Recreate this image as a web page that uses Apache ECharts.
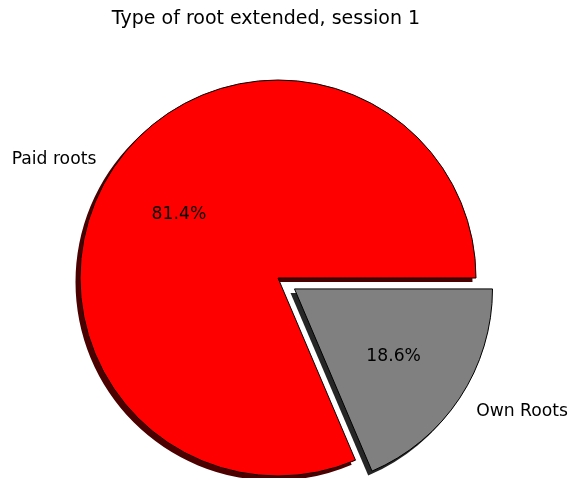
<!DOCTYPE html>
<html>
<head>
<meta charset="utf-8">
<script src="https://cdn.jsdelivr.net/npm/echarts@6/dist/echarts.min.js"></script>
<style>html,body{margin:0;padding:0;background:#fff;}#c{width:569px;height:478px;}</style>
</head>
<body>
<div id="c"></div>
<script>
const categories = ['Paid roots', 'Own Roots'];
const values = [81.4, 18.6];
const colors = ['#ff0000', '#808080'];
const shadowColors = ['#4d0000', '#262626'];
const exploded = [false, true];
const titleText = 'Type of root extended, session 1';

const R = 198;
const cx = 278, cy = 278;
const font = 'DejaVu Sans';

const shadowData = categories.map((name, i) => ({
  name, value: values[i], selected: exploded[i],
  itemStyle: { color: shadowColors[i] }
}));
const mainData = categories.map((name, i) => ({
  name, value: values[i], selected: exploded[i],
  itemStyle: { color: colors[i] }
}));
const pctData = categories.map((name, i) => ({
  name, value: values[i], selected: exploded[i]
}));

const common = {
  type: 'pie', startAngle: 0, clockwise: false,
  selectedMode: 'multiple', selectedOffset: R * 0.1,
  avoidLabelOverlap: false, silent: true,
  emphasis: { disabled: true }
};
const richT = { t: { fontFamily: font, fontSize: 17.2, color: '#000', padding: [4, 0, 0, 0] } };

const chart = echarts.init(document.getElementById('c'));
chart.setOption({
  animation: false,
  backgroundColor: '#fff',
  title: {
    text: titleText, left: 266, textAlign: 'center', top: 10, padding: 0,
    textStyle: { fontFamily: font, fontSize: 19, fontWeight: 'normal', color: '#000' }
  },
  series: [
    Object.assign({}, common, {
      center: [cx - 4, cy + 4], radius: [0, R + 0.5],
      itemStyle: { borderWidth: 0 },
      label: { show: false }, labelLine: { show: false },
      data: shadowData
    }),
    Object.assign({}, common, {
      center: [cx, cy], radius: [0, R],
      itemStyle: { borderColor: '#000', borderWidth: 1 },
      label: { show: true, position: 'outside', formatter: '{t|{b}}', distanceToLabelLine: 0,
        fontFamily: font, fontSize: 17.2, color: '#000', rich: richT },
      labelLine: { show: false, length: R * 0.1, length2: 0 },
      data: mainData
    }),
    Object.assign({}, common, {
      center: [cx, cy], radius: [0, (0.6 * R - 3) * 2],
      percentPrecision: 1,
      itemStyle: { color: 'rgba(0,0,0,0)', borderWidth: 0 },
      label: { show: true, position: 'inside', formatter: '{t|{d}%}',
        fontFamily: font, fontSize: 17.2, color: '#000', rich: richT },
      labelLine: { show: false },
      data: pctData
    })
  ]
});
</script>
</body>
</html>
